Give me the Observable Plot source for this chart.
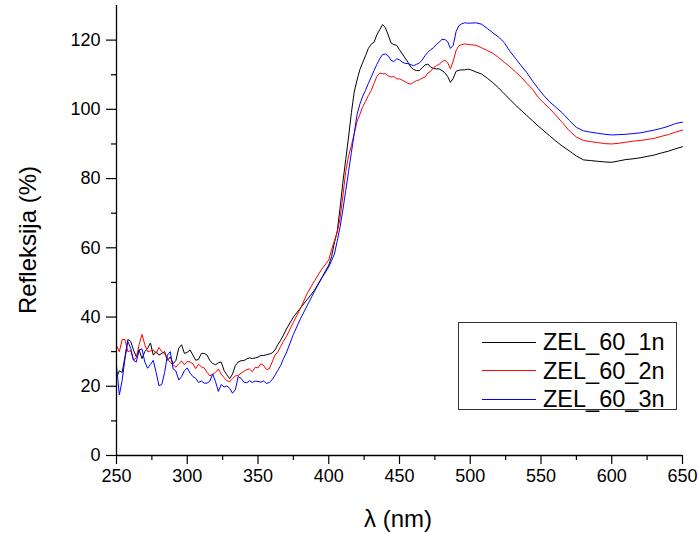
<!DOCTYPE html>
<html>
<head>
<meta charset="utf-8">
<script src="https://cdn.jsdelivr.net/npm/d3@7"></script>
<script src="https://cdn.jsdelivr.net/npm/@observablehq/plot@0.6"></script>
<style>
  body { margin: 0; background: #fff; font-family: "Liberation Sans", Arial, sans-serif; }
  #wrap { position: relative; width: 699px; height: 533px; overflow: hidden; }
  #legend { position: absolute; left: 458px; top: 322px; width: 217px; height: 86px;
            border: 1px solid #333; background: #fff; box-sizing: content-box; }
  .lrow { position: absolute; left: 0; height: 28px; display: flex; align-items: center; }
  .lsw { width: 54px; height: 0; border-top: 1px solid; margin-left: 23px; margin-right: 7px; }
  .ltx { font-size: 23.5px; color: #000; line-height: 28px; white-space: nowrap; }
  .title { position: absolute; font-size: 24px; color: #000; white-space: nowrap; }
</style>
</head>
<body>
<div id="wrap"></div>
<script>
// ---------- data ----------
const wavelength = [
  250,252,254,256,258,260,262,264,266,268,270,272,274,276,278,280,282,284,286,288,
  290,292,294,296,298,300,302,304,306,308,310,312,314,316,318,320,322,324,326,328,
  330,332,334,336,338,340,342,344,346,348,350,352,354,356,358,360,362,364,366,368,370,
  375,380,385,390,395,
  400,402,404,406,408,410,412,414,416,418,420,422,424,426,428,430,432,434,436,438,
  440,442,444,446,448,450,452,454,456,458,460,462,464,466,468,470,472,474,476,478,
  480,482,484,486,488,490,492,494,496,498,500,
  504,508,512,516,520,524,528,532,536,540,544,548,552,556,560,
  565,570,575,580,585,590,595,600,605,610,615,620,625,630,635,640,645,650
];
const zel60_1n = [
  22.5,24.5,24.0,28.5,33.5,33.0,30.5,28.5,30.5,28.0,30.0,31.0,32.5,29.0,30.0,29.0,29.5,30.0,27.5,28.5,
  26.5,27.5,31.0,32.0,29.5,29.8,30.5,29.0,27.5,27.8,29.5,29.5,29.0,27.4,26.6,26.2,26.8,27.0,24.6,23.3,
  22.2,23.5,26.0,27.0,27.4,27.4,27.9,28.2,28.0,28.2,28.4,28.9,28.9,29.1,29.3,29.6,30.5,32.0,33.3,34.8,36.5,
  40.0,42.6,45.2,47.8,51.3,
  55.0,57.5,61.5,64.8,71.5,79.0,85.5,92.0,99.0,105.0,108.5,111.5,113.5,115.5,117.6,118.8,119.4,121.5,123.0,124.5,
  123.6,121.5,119.2,118.7,118.5,117.2,116.0,114.8,113.6,112.2,111.5,111.2,111.2,112.0,112.8,113.1,112.2,111.8,111.7,111.7,
  111.2,110.6,109.5,107.8,109.0,111.0,111.3,111.4,111.4,111.6,111.5,
  110.8,110.2,109.0,107.7,106.2,104.5,102.9,101.2,99.7,98.2,96.7,95.2,93.8,92.4,91.0,
  89.4,88.0,86.5,85.4,85.2,85.0,84.8,84.7,85.1,85.5,85.7,86.0,86.4,86.8,87.4,87.9,88.6,89.2
];
const zel60_2n = [
  31.8,30.0,33.5,33.5,30.0,30.3,27.6,28.2,32.0,35.0,32.0,30.0,30.2,30.5,29.5,31.2,30.0,29.4,28.0,26.8,
  26.2,25.5,26.5,27.3,26.2,27.2,27.0,26.5,25.1,26.4,25.6,25.3,24.0,23.0,23.5,24.0,25.0,23.5,22.5,21.6,
  21.3,22.2,23.0,23.1,23.8,24.3,24.8,25.0,24.2,25.5,25.3,26.5,26.0,24.8,25.1,27.0,29.0,29.9,31.5,33.0,34.3,
  38.5,42.5,47.0,50.5,53.8,
  56.5,59.5,62.0,64.5,68.5,75.0,82.0,86.5,89.5,93.0,96.5,98.5,100.8,102.3,104.0,105.4,107.5,109.5,110.5,110.3,
  110.3,109.7,109.3,109.5,108.8,108.8,108.4,108.0,107.5,107.3,107.8,108.3,108.5,109.0,109.3,110.5,111.0,112.0,112.6,113.0,
  113.8,114.2,113.5,111.7,114.0,117.0,118.4,118.7,118.9,118.8,118.7,
  118.5,117.8,117.0,116.2,115.0,113.6,112.3,110.8,109.3,107.5,105.8,103.5,101.8,100.3,98.5,
  96.2,93.8,92.0,91.0,90.7,90.4,90.1,90.0,90.2,90.5,90.8,91.0,91.3,91.6,92.2,92.7,93.4,94.0
];
const zel60_3n = [
  26.0,17.5,21.7,28.0,33.0,31.0,27.5,27.0,30.5,30.8,27.0,25.2,26.3,27.5,24.0,20.2,20.5,24.0,29.0,30.0,
  25.0,24.4,21.8,22.8,24.5,25.3,23.8,22.8,22.3,21.1,21.5,20.9,20.9,21.5,23.5,21.3,18.5,20.5,19.8,20.1,
  19.4,18.0,19.0,22.8,22.3,21.2,21.0,21.6,21.1,21.5,21.4,21.2,21.5,20.8,21.1,21.9,23.2,24.6,26.0,28.0,29.6,
  35.0,39.5,43.5,47.5,51.2,
  54.5,56.3,58.2,62.0,66.0,71.0,76.5,82.0,87.5,93.0,98.5,101.5,103.8,105.5,107.5,109.3,111.2,113.0,114.6,115.8,
  116.0,115.5,114.2,113.8,114.6,114.3,113.6,113.3,113.2,112.9,112.6,113.0,113.4,114.2,115.5,116.5,117.2,117.8,118.7,119.4,
  120.2,120.2,119.6,117.6,118.5,122.5,124.2,124.7,125.0,124.9,124.9,
  125.0,124.6,123.4,122.1,120.9,119.3,116.8,114.7,112.6,110.6,108.2,106.0,104.0,102.2,100.8,
  99.0,96.8,94.8,93.8,93.4,93.1,92.8,92.6,92.7,92.8,93.0,93.2,93.6,94.0,94.5,95.1,95.9,96.3
];
const seriesNames = ["ZEL_60_1n", "ZEL_60_2n", "ZEL_60_3n"];
const seriesColors = ["#000000", "#ff0000", "#0000ff"];
const xTicks = [250, 300, 350, 400, 450, 500, 550, 600, 650];
const xMinorTicks = [275, 325, 375, 425, 475, 525, 575, 625];
const yTicks = [0, 20, 40, 60, 80, 100, 120];
const yMinorTicks = [10, 30, 50, 70, 90, 110];
const xLabel = "λ (nm)";
const yLabel = "Refleksija (%)";

// ---------- build table ----------
const allSeries = [zel60_1n, zel60_2n, zel60_3n];
allSeries.forEach((s, i) => { if (s.length !== wavelength.length) console.error("length mismatch", seriesNames[i], s.length, wavelength.length); });
const rows = [];
allSeries.forEach((vals, i) => {
  vals.forEach((v, j) => rows.push({ lambda: wavelength[j], value: v, series: seriesNames[i] }));
});

const chart = Plot.plot({
  width: 699,
  height: 533,
  marginLeft: 116,
  marginRight: 17,
  marginTop: 5,
  marginBottom: 78,
  style: { fontFamily: "'Liberation Sans', Arial, sans-serif", fontSize: "18px", color: "#000", background: "#fff" },
  x: { domain: [250, 650] },
  y: { domain: [0, 130] },
  color: { domain: seriesNames, range: seriesColors },
  marks: [
    Plot.axisX({ ticks: xTicks, tickSize: 9, tickPadding: 5, tickFormat: d => String(d), label: null, fontSize: 18, strokeWidth: 1.2 }),
    Plot.axisX({ ticks: xMinorTicks, tickSize: 5, tickFormat: null, text: null, label: null, strokeWidth: 1.2 }),
    Plot.axisY({ ticks: yTicks, tickSize: 10, tickPadding: 6, tickFormat: d => String(d), label: null, fontSize: 18, strokeWidth: 1.2 }),
    Plot.axisY({ ticks: yMinorTicks, tickSize: 5, tickFormat: null, text: null, label: null, strokeWidth: 1.2 }),
    Plot.line(rows, { x: "lambda", y: "value", z: "series", stroke: "series", strokeWidth: 1, curve: "linear" }),
    Plot.ruleX([250], { y1: 0, y2: 130, stroke: "#000", strokeWidth: 1.3 }),
    Plot.ruleY([0], { x1: 250, x2: 650, stroke: "#000", strokeWidth: 1.3 })
  ]
});

const wrap = document.getElementById("wrap");
wrap.appendChild(chart);

// axis titles
const xt = document.createElement("div");
xt.className = "title";
xt.textContent = xLabel;
wrap.appendChild(xt);
xt.style.left = (398 - xt.offsetWidth / 2) + "px";
xt.style.top = (519 - xt.offsetHeight / 2) + "px";

const yt = document.createElement("div");
yt.className = "title";
yt.textContent = yLabel;
wrap.appendChild(yt);
yt.style.left = (28 - yt.offsetWidth / 2) + "px";
yt.style.top = (240 - yt.offsetHeight / 2) + "px";
yt.style.transform = "rotate(-90deg)";

// legend
const leg = document.createElement("div");
leg.id = "legend";
seriesNames.forEach((name, i) => {
  const r = document.createElement("div");
  r.className = "lrow";
  r.style.top = (5 + i * 28.5) + "px";
  const sw = document.createElement("div");
  sw.className = "lsw";
  sw.style.borderTopColor = seriesColors[i];
  const tx = document.createElement("span");
  tx.className = "ltx";
  tx.textContent = name;
  r.appendChild(sw); r.appendChild(tx);
  leg.appendChild(r);
});
wrap.appendChild(leg);
</script>
</body>
</html>
